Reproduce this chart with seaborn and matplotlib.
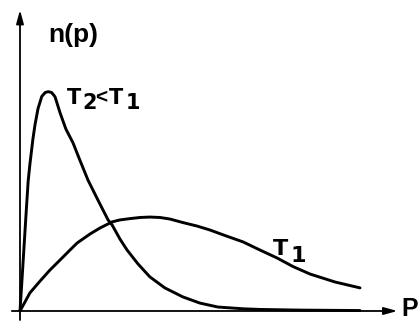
"""
Sketch of the momentum distribution n(p) at two temperatures.
"""

import numpy as np
import pandas as pd
import seaborn as sns
import matplotlib
matplotlib.use("Agg")
import matplotlib.pyplot as plt

# values (arbitrary units)
p_cold = [0, 0.06, 0.12, 0.18, 0.24, 0.29, 0.34, 0.38, 0.44, 0.53, 0.64,
          0.74, 0.83, 0.93, 1.03, 1.18, 1.35, 1.56, 1.76, 2.0, 2.29, 2.59,
          2.71, 2.94, 3.15, 3.47, 3.82, 4.26, 4.79, 5.29, 5.82, 6.56, 7.06,
          8.24, 10.0]
n_cold = [0, 1.45, 2.95, 4.45, 5.9, 6.65, 7.3, 7.82, 8.45, 9.2, 9.75,
          9.93, 9.97, 9.93, 9.74, 9.0, 8.27, 7.64, 6.86, 5.95, 5.05, 4.14,
          3.91, 3.27, 2.77, 2.14, 1.55, 1.05, 0.64, 0.36, 0.18, 0.1, 0.07,
          0.04, 0.02]

p_hot = [0, 0.15, 0.29, 0.59, 0.88, 1.18, 1.47, 1.68, 2.06, 2.35, 2.71,
         2.94, 3.24, 3.53, 3.82, 4.12, 4.41, 4.79, 5.21, 5.59, 6.03, 6.56,
         7.06, 7.56, 8.03, 8.53, 9.26, 10.0]
n_hot = [0, 0.42, 0.82, 1.36, 1.86, 2.32, 2.77, 3.09, 3.5, 3.77, 4.05,
         4.14, 4.2, 4.25, 4.27, 4.25, 4.18, 4.02, 3.86, 3.68, 3.43, 3.14,
         2.77, 2.41, 2.02, 1.68, 1.32, 1.05]

sns.set_style("white")
plt.rcParams["font.family"] = ["Liberation Sans", "DejaVu Sans"]

df = pd.concat([
    pd.DataFrame({"p": p_cold, "n": n_cold, "T": "T2"}),
    pd.DataFrame({"p": p_hot, "n": n_hot, "T": "T1"}),
])

fig = plt.figure(figsize=(4.19, 3.21), dpi=100)
ax = fig.add_axes([0, 0, 1, 1])
sns.lineplot(data=df, x="p", y="n", hue="T", palette=["black", "black"],
             lw=2.1, sort=False, legend=False, ax=ax)
for line in ax.lines:
    line.set_solid_joinstyle("round")

ax.set_xlim(-0.588, 11.735)
ax.set_ylim(-0.455, 14.136)
ax.axis("off")

# axes with arrow heads
arrow = dict(arrowstyle="-|>,head_length=0.8,head_width=0.22",
             color="black", lw=1.3, shrinkA=0, shrinkB=0)
ax.annotate("", xy=(11.1, 0), xytext=(-0.24, 0), arrowprops=arrow)
ax.annotate("", xy=(0, 13.68), xytext=(0, -0.41), arrowprops=arrow)

bold = dict(fontweight="bold", color="black")
ax.text(0.82, 12.23, "n(p)", fontsize=19, ha="left", va="baseline", **bold)

# T2<T1 with same-size lowered indices
wide = ["DejaVu Sans"]
narrow = ["Liberation Sans"]
for x, y, s, fam in [(1.38, 9.43, "T", wide), (1.82, 9.2, "2", wide),
                     (2.22, 9.45, "<", narrow), (2.62, 9.43, "T", wide),
                     (3.1, 9.18, "1", wide)]:
    ax.text(x, y, s, fontsize=15, family=fam, ha="left", va="baseline",
            **bold)

ax.text(7.44, 2.55, "T", fontsize=16, family=wide, ha="left",
        va="baseline", **bold)
ax.text(7.95, 2.23, "1", fontsize=16, family=wide, ha="left",
        va="baseline", **bold)
ax.text(11.22, 0.64, "P", fontsize=18, ha="left", va="top", **bold)

fig.savefig("out.png", dpi=100)
